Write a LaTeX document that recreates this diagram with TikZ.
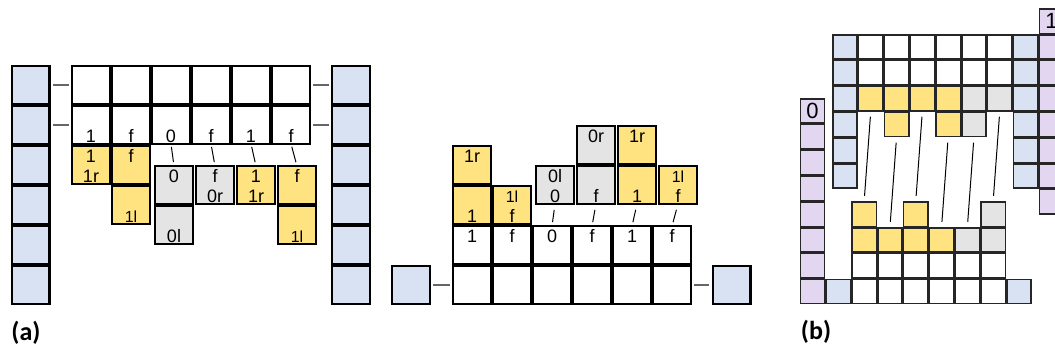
\documentclass[tikz,border=0pt]{standalone}
\usepackage{fontspec}
\setmainfont{Liberation Sans}
\newfontfamily\capfont{Carlito}
\definecolor{cblue}{HTML}{D8E2F3}
\definecolor{cyel}{HTML}{FFE380}
\definecolor{cgray}{HTML}{E4E4E4}
\definecolor{cpur}{HTML}{E2D6F1}
\newcommand\toplbl[3][lbl]{\node[#1] (#2-t) at ([yshift=2.5pt]#2.center) {#3};}
\newcommand\botlbl[3][lbl]{\node[#1] (#2-b) at ([yshift=-17pt]#2.center) {#3};}
\begin{document}
\begin{tikzpicture}[x=1pt,y=-1pt,
  acell/.style={draw=black,line width=2.2pt,minimum size=37.8pt,inner sep=0pt,outer sep=0pt},
  bcell/.style={draw=black!85,line width=1.5pt,minimum size=24.3pt,inner sep=0pt,outer sep=0pt},
  wh/.style={fill=white}, bl/.style={fill=cblue}, ye/.style={fill=cyel},
  gr/.style={fill=cgray}, pu/.style={fill=cpur},
  lbl/.style={anchor=base,inner sep=0pt,font=\fontsize{18}{20}\selectfont},
  slbl/.style={anchor=base,inner sep=0pt,font=\fontsize{16}{18}\selectfont},
  blbl/.style={inner sep=0pt,font=\fontsize{22}{24}\selectfont},
  stub/.style={draw=black!60,line width=1.3pt,shorten <=3.5pt,shorten >=3.5pt},
  link/.style={draw=black,line width=1pt},
  figcap/.style={font=\capfont\bfseries\fontsize{26}{28}\selectfont}
]
\useasboundingbox (0,0) rectangle (1055,354);
% ---------------- (a) left ----------------
\foreach \k in {1,...,6} {
  \node[acell,bl] (lb\k) at (30.5,45+40*\k) {};
  \node[acell,bl] (rb\k) at (351,45+40*\k) {};
}
\foreach \c in {1,...,6} {
  \node[acell,wh] (g1\c) at (51+40*\c,85) {};
  \node[acell,wh] (g2\c) at (51+40*\c,125) {};
}
\foreach \c/\t in {1/1,2/f,3/0,4/f,5/1,6/f} {\botlbl{g2\c}{\t}}
\node[acell,ye] (ya1) at (91,165) {};
\node[acell,ye] (ya2) at (131,165) {};
\node[acell,ye] (ya3) at (131,205) {};
\node[acell,gr] (ga1) at (174,185) {};
\node[acell,gr] (ga2) at (174,225) {};
\node[acell,gr] (ga3) at (215,185) {};
\node[acell,ye] (ya4) at (256,185) {};
\node[acell,ye] (ya5) at (297,185) {};
\node[acell,ye] (ya6) at (297,225) {};
\toplbl{ya1}{1}\botlbl{ya1}{1r}
\toplbl{ya2}{f}
\botlbl[slbl]{ya3}{1l}
\toplbl{ga1}{0}
\botlbl{ga2}{0l}
\toplbl{ga3}{f}\botlbl{ga3}{0r}
\toplbl{ya4}{1}\botlbl{ya4}{1r}
\toplbl{ya5}{f}
\botlbl[slbl]{ya6}{1l}
\draw[stub] (lb1) -- (g11);
\draw[stub] (lb2) -- (g21);
\draw[stub] (g16) -- (rb1);
\draw[stub] (g26) -- (rb2);
\draw[link,shorten <=3pt,shorten >=4pt] (g23.south) -- (ga1.north);
\draw[link,shorten <=3pt,shorten >=4pt] (g24.south) -- (ga3.north);
\draw[link,shorten <=3pt,shorten >=4pt] (g25.south) -- (ya4.north);
\draw[link,shorten <=3pt,shorten >=4pt] (g26.south) -- (ya5.north);
% ---------------- (a) middle ----------------
\node[acell,bl] (mlb) at (411,285) {};
\node[acell,bl] (mrb) at (731.5,285) {};
\foreach \c in {1,...,6} {
  \node[acell,wh] (m1\c) at (432+40*\c,245) {};
  \node[acell,wh] (m2\c) at (432+40*\c,285) {};
}
\foreach \c/\t in {1/1,2/f,3/0,4/f,5/1,6/f} {\toplbl{m1\c}{\t}}
\node[acell,ye] (my2) at (472,165) {};
\node[acell,ye] (my1) at (472,205) {};
\node[acell,ye] (my3) at (512,205) {};
\node[acell,gr] (mg1) at (555,185) {};
\node[acell,gr] (mg3) at (596,145) {};
\node[acell,gr] (mg2) at (596,185) {};
\node[acell,ye] (my5) at (637,145) {};
\node[acell,ye] (my4) at (637,185) {};
\node[acell,ye] (my6) at (678,185) {};
\toplbl{my2}{1r}
\botlbl{my1}{1}
\toplbl[slbl]{my3}{1l}\botlbl{my3}{f}
\toplbl{mg1}{0l}\botlbl{mg1}{0}
\toplbl{mg3}{0r}
\botlbl{mg2}{f}
\toplbl{my5}{1r}
\botlbl{my4}{1}
\toplbl[slbl]{my6}{1l}\botlbl{my6}{f}
\draw[stub] (mlb) -- (m21);
\draw[stub] (m26) -- (mrb);
\draw[link,shorten <=4pt,shorten >=6pt] (m13.north) -- (mg1.south);
\draw[link,shorten <=4pt,shorten >=6pt] (m14.north) -- (mg2.south);
\draw[link,shorten <=4pt,shorten >=6pt] (m15.north) -- (my4.south);
\draw[link,shorten <=4pt,shorten >=6pt] (m16.north) -- (my6.south);
% ---------------- (b) top group ----------------
\foreach \m in {0,...,7} {
  \node[bcell,pu] (tp\m) at (1051.4,21.2+25.8*\m) {};
}
\foreach \m in {1,...,6} {
  \node[bcell,bl] (tl\m) at (845,21.2+25.8*\m) {};
  \node[bcell,bl] (tr\m) at (1025.6,21.2+25.8*\m) {};
}
\foreach \c in {1,...,6} {
  \node[bcell,wh] (t1\c) at (845+25.8*\c,47) {};
  \node[bcell,wh] (t2\c) at (845+25.8*\c,72.8) {};
}
\foreach \c/\s in {1/ye,2/ye,3/ye,4/ye,5/gr,6/gr} {
  \node[bcell,\s] (t3\c) at (845+25.8*\c,98.6) {};
}
\node[bcell,ye] (t42) at (896.6,124.4) {};
\node[bcell,ye] (t44) at (948.2,124.4) {};
\node[bcell,gr] (t45) at (974,124.4) {};
\node[blbl] (tp0-l) at (tp0) {1};
% ---------------- (b) bottom group ----------------
\foreach \m in {1,...,8} {
  \node[bcell,pu] (bp\m) at (812.5,317.3-25.8*\m) {};
}
\node[bcell,bl] (bbl) at (838.3,291.5) {};
\node[bcell,bl] (bbr) at (1018.9,291.5) {};
\foreach \c in {1,...,6} {
  \node[bcell,wh] (b1\c) at (838.3+25.8*\c,291.5) {};
  \node[bcell,wh] (b2\c) at (838.3+25.8*\c,265.7) {};
}
\foreach \c/\s in {1/ye,2/ye,3/ye,4/ye,5/gr,6/gr} {
  \node[bcell,\s] (b3\c) at (838.3+25.8*\c,239.9) {};
}
\node[bcell,ye] (b41) at (864.1,214.1) {};
\node[bcell,ye] (b43) at (915.7,214.1) {};
\node[bcell,gr] (b46) at (993.1,214.1) {};
\node[blbl] (bp8-l) at (bp8) {0};
\draw[link,shorten <=6pt,shorten >=6pt] (t31.south) -- (b41.north);
\draw[link,shorten <=6pt,shorten >=6pt] (t42.south) -- (b32.north);
\draw[link,shorten <=6pt,shorten >=6pt] (t33.south) -- (b43.north);
\draw[link,shorten <=6pt,shorten >=6pt] (t44.south) -- (b34.north);
\draw[link,shorten <=6pt,shorten >=6pt] (t45.south) -- (b35.north);
\draw[link,shorten <=6pt,shorten >=6pt] (t36.south) -- (b46.north);
% ---------------- captions ----------------
\node[figcap] (capa) at (26,333) {(a)};
\node[figcap] (capb) at (816,332) {(b)};
\end{tikzpicture}
\end{document}
